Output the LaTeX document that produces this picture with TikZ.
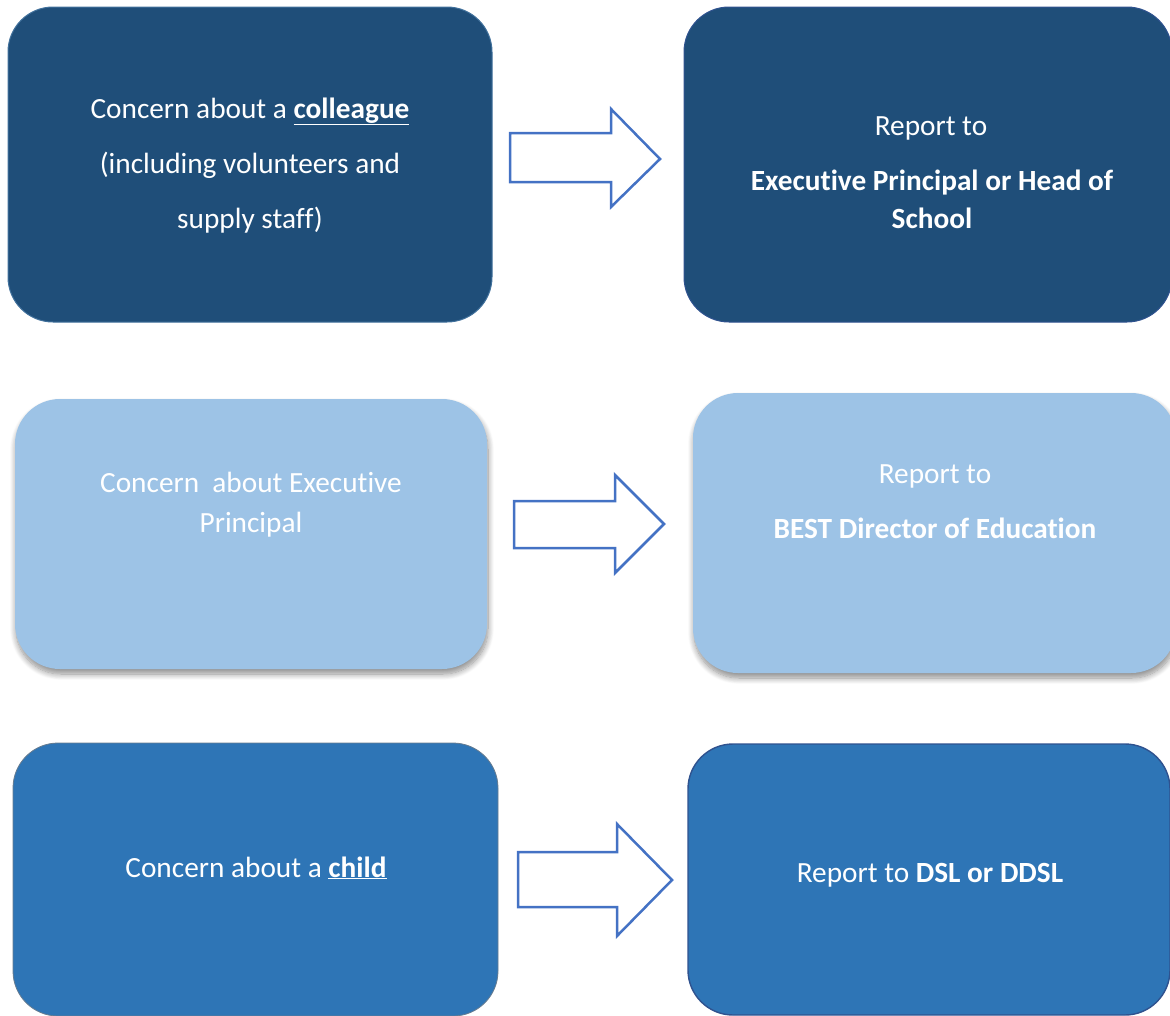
\documentclass[tikz,border=0pt]{standalone}
\usepackage{fontspec}
\setmainfont[Ligatures={NoCommon}]{Carlito}
\usetikzlibrary{shadows.blur}
\definecolor{darkbox}{HTML}{1F4E79}
\definecolor{lightbox}{HTML}{9DC3E6}
\definecolor{midbox}{HTML}{2E75B6}
\definecolor{arrowblue}{HTML}{4472C4}
\definecolor{edgeA}{HTML}{41719C}
\definecolor{edgeB}{HTML}{2F528F}
\tikzset{
  box/.style={rectangle, rounded corners=45pt, inner sep=0pt},
  txt/.style={anchor=base, inner sep=0pt, text=white, font=\fontsize{29.3}{35}\selectfont},
  blockarrow/.style={draw=arrowblue, line width=2.5pt, fill=white, line join=miter},
  softshadow/.style={blur shadow={shadow xshift=1pt, shadow yshift=-5pt, shadow blur steps=10, shadow blur radius=6pt, shadow opacity=45}}
}
\newcommand{\ulb}[1]{\underline{\textbf{#1}}}
\begin{document}
\begin{tikzpicture}[x=1pt,y=-1pt]
\useasboundingbox (0,0) rectangle (1170,1015);
% row 1
\node[box, fill=darkbox, draw=edgeA, line width=1pt, minimum width=484pt, minimum height=315pt] (b1) at (250,164.5) {};
\node[box, fill=darkbox, draw=edgeB, line width=1pt, minimum width=488pt, minimum height=315pt] (b2) at (928,164.5) {};
\node[txt] (t1a) at (250,118) {Concern about a \ulb{colleague}};
\node[txt] (t1b) at (250,173) {(including volunteers and};
\node[txt] (t1c) at (250,228) {supply staff)};
\node[txt] (t2a) at (931,135) {Report to};
\node[txt] (t2b) at (932,190) {\textbf{Executive Principal or Head of}};
\node[txt] (t2c) at (932,228) {\textbf{School}};
\draw[blockarrow] (510,133) -- (611,133) -- (611,109) -- (660,159) -- (611,207) -- (611,182) -- (510,182) -- cycle;
% row 2
\node[box, fill=lightbox, softshadow, minimum width=472pt, minimum height=270pt] (b3) at (251,534) {};
\node[box, fill=lightbox, softshadow, minimum width=483pt, minimum height=280pt] (b4) at (934.5,533) {};
\node[txt] (t3a) at (251,492) {Concern\ \ about Executive};
\node[txt] (t3b) at (251,532) {Principal};
\node[txt] (t4a) at (935,483) {Report to};
\node[txt] (t4b) at (935,538) {\textbf{BEST Director of Education}};
\draw[blockarrow] (514,501) -- (615,501) -- (615,475) -- (664,524) -- (615,573) -- (615,548) -- (514,548) -- cycle;
% row 3
\node[box, fill=midbox, draw=gray!70!midbox, line width=0.8pt, minimum width=485pt, minimum height=273pt] (b5) at (255.5,879.5) {};
\node[box, fill=midbox, draw=edgeB, line width=1.4pt, minimum width=482pt, minimum height=271pt] (b6) at (929,879.5) {};
\node[txt] (t5) at (256,877) {Concern about a \ulb{child}};
\node[txt] (t6) at (930,882) {Report to \textbf{DSL or DDSL}};
\draw[blockarrow] (518,852) -- (617,852) -- (617,824) -- (672,880) -- (617,936) -- (617,907) -- (518,907) -- cycle;
\end{tikzpicture}
\end{document}
